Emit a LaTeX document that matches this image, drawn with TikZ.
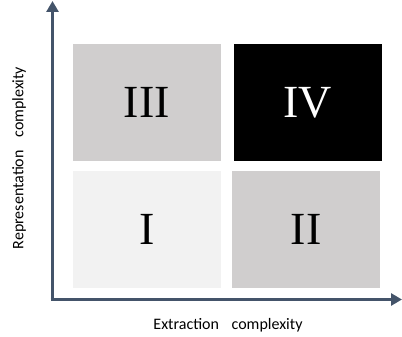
\documentclass[tikz,border=0pt]{standalone}
\usepackage{fontspec}
\setmainfont{Liberation Serif}
\newfontfamily\labelfont{Carlito}
\usetikzlibrary{arrows.meta}
\definecolor{axisblue}{RGB}{68,84,106}
\definecolor{midgray}{RGB}{208,206,206}
\definecolor{lightgray}{RGB}{242,242,242}
\tikzset{
  quad/.style={minimum width=147.7pt, minimum height=117pt, inner sep=0pt, draw=none, font=\fontsize{46}{46}\selectfont},
  axisline/.style={line width=3.8pt, color=axisblue, -{Triangle[width=12pt,length=11pt]}},
  axislabel/.style={font=\labelfont\fontsize{16}{16}\selectfont, text=black, inner sep=0pt}
}
\begin{document}
\begin{tikzpicture}[x=1pt,y=1pt]
\useasboundingbox (0,0) rectangle (402,337);
\coordinate (origin) at (52.5,37.5);
\coordinate (ytip) at (52.5,336);
\coordinate (xtip) at (402,37.5);
\node[quad, fill=midgray] (q3) at (146.8,234.6) {III};
\node[quad, fill=black, text=white] (q4) at (307.8,234.6) {IV};
\node[quad, fill=lightgray] (q1) at (146.8,107.2) {I};
\node[quad, fill=midgray] (q2) at (306,107.2) {II};
\draw[axisline] (origin) -- (ytip);
\draw[axisline] ([xshift=-1.9pt]origin) -- (xtip);
\node[axislabel] (xl) at (228,12) {Extraction\hspace{9pt} complexity};
\node[axislabel, rotate=90] (yl) at (19,179) {Representation\hspace{9pt} complexity};
\end{tikzpicture}
\end{document}
